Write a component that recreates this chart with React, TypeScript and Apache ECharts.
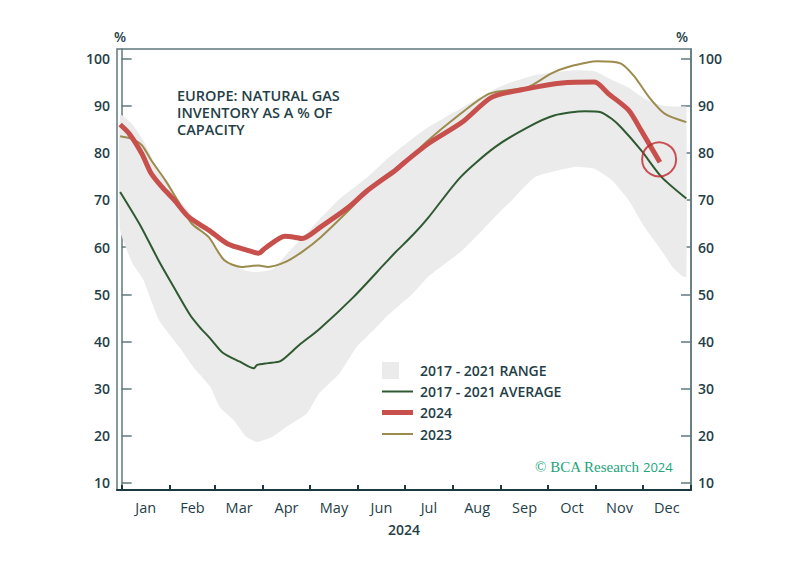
import React, { useEffect, useRef } from 'react';
import * as echarts from 'echarts';

// ---------- DATA ----------
const MONTHS = ['Jan', 'Feb', 'Mar', 'Apr', 'May', 'Jun', 'Jul', 'Aug', 'Sep', 'Oct', 'Nov', 'Dec'];
const MONTH_START_DAYS = [0, 31, 60, 91, 121, 152, 182, 213, 244, 274, 305, 335, 366];
const Y_TICKS = [10, 20, 30, 40, 50, 60, 70, 80, 90, 100];
const TITLE_LINES = ['EUROPE: NATURAL GAS', 'INVENTORY AS A % OF', 'CAPACITY'];

// 2017 - 2021 range (day of year, low, high)
const RANGE_DAYS = [-1, 7, 14, 24, 37, 46, 57, 63, 72, 80, 87, 97, 106, 119, 127, 140, 151, 162, 170, 187, 197, 219, 240, 251, 266, 291, 304, 315, 326, 336, 347, 354, 360, 363];
const RANGE_LOW = [63.6, 56.5, 53.0, 44.5, 38.8, 34.6, 30.4, 26.1, 23.3, 19.8, 18.7, 19.8, 21.9, 24.7, 29.0, 33.2, 38.8, 42.4, 45.2, 50.1, 53.7, 59.3, 66.4, 70.0, 74.9, 77.0, 76.6, 74.2, 69.9, 64.3, 59.3, 55.8, 54.0, 53.7];
const RANGE_HIGH = [88.0, 86.0, 82.5, 76.0, 70.0, 66.5, 61.5, 58.5, 56.0, 55.0, 54.7, 55.3, 58.5, 63.0, 65.8, 70.2, 73.0, 76.0, 78.5, 83.0, 85.4, 89.6, 93.5, 95.0, 96.5, 97.5, 97.3, 95.5, 93.8, 91.5, 90.0, 89.8, 89.8, 89.7];

// 2017 - 2021 average
const AVG_2017_2021: [number, number][] = [
  [-1, 71.7], [12, 64.6], [24, 57.0], [33, 51.8], [44, 45.6], [50, 43.1], [57, 40.6], [65, 37.6],
  [76, 35.7], [85, 34.3], [87, 35.0], [94, 35.4], [102, 35.8], [114, 39.2], [127, 42.6], [149, 49.4],
  [170, 56.8], [176, 58.9], [187, 62.5], [197, 66.2], [218, 74.9], [240, 81.2], [261, 85.4],
  [278, 87.9], [298, 88.8], [308, 88.6], [315, 87.2], [321, 85.4], [334, 80.5], [347, 74.9], [363, 70.3],
];

// 2024
const Y2024: [number, number][] = [
  [-1, 86.0], [5, 84.0], [13, 79.8], [19, 75.6], [26, 72.7], [34, 69.9], [43, 66.4], [56, 63.6],
  [68, 60.7], [81, 59.3], [88, 58.7], [92, 59.7], [105, 62.3], [111, 62.1], [116, 61.8], [128, 64.3],
  [146, 68.5], [158, 72.0], [176, 76.3], [182, 78.0], [197, 81.9], [219, 86.5], [238, 91.8],
  [261, 93.6], [283, 94.8], [304, 95.0], [313, 92.5], [326, 89.0], [334, 84.7], [346, 78.0],
];

// 2023
const Y2023: [number, number][] = [
  [-1, 83.5], [6, 83.0], [13, 81.6], [19, 78.4], [28, 74.2], [36, 69.9], [45, 65.0], [56, 62.1],
  [66, 57.2], [77, 55.8], [88, 56.1], [94, 55.8], [105, 56.8], [116, 59.0], [128, 62.1], [146, 67.8],
  [163, 73.5], [182, 78.0], [197, 82.6], [210, 86.2], [236, 92.5], [261, 93.9], [276, 96.8],
  [287, 98.2], [306, 99.4], [321, 98.9], [330, 96.0], [339, 91.8], [349, 88.3], [363, 86.5],
];

const HIGHLIGHT: [number, number] = [345.5, 78.6];

// ---------- STYLE ----------
const TEXT = '#1f4047';
const AXIS_GREY = '#5f787e';
const C_RANGE = '#ebebeb';
const C_AVG = '#2f5a31';
const C_2024 = '#c8504c';
const C_2023 = '#9b8b4d';
const C_BRAND = '#22a57a';
const FONT = '"Open Sans", "Noto Sans", sans-serif';
const SERIF = '"Liberation Serif", "DejaVu Serif", serif';

export default function App() {
  const ref = useRef<HTMLDivElement>(null);

  useEffect(() => {
    if (!ref.current) return;
    const chart = echarts.init(ref.current, undefined, { renderer: 'svg' });

    const monthMid = MONTHS.map((_, i) => (MONTH_START_DAYS[i] + MONTH_START_DAYS[i + 1]) / 2);
    const rangeData = RANGE_DAYS.map((d, i) => [d, RANGE_LOW[i], RANGE_HIGH[i]]);

    const yAxisCommon = {
      type: 'value' as const,
      min: 8.5,
      max: 102,
      splitLine: { show: false },
      axisLine: { show: true, lineStyle: { color: AXIS_GREY, width: 1.5 } },
      axisTick: { show: true, inside: true, length: 10, customValues: Y_TICKS, lineStyle: { color: AXIS_GREY, width: 1.5 } },
      axisLabel: {
        customValues: Y_TICKS,
        margin: 7,
        color: TEXT,
        fontFamily: FONT,
        fontSize: 14,
        fontWeight: 600,
      },
    };

    const legendX = 382;
    const legendTextX = 420;
    const legendRows = [370.5, 391.5, 412.5, 434];
    const legendLabels = ['2017 - 2021 RANGE', '2017 - 2021 AVERAGE', '2024', '2023'];
    const titleRows = [95, 112.3, 129.6];

    const option: any = {
      animation: false,
      backgroundColor: '#ffffff',
      grid: { left: 117, right: 118, top: 49, bottom: 90, show: true, borderColor: AXIS_GREY, borderWidth: 1.5 },
      xAxis: {
        type: 'value',
        min: -3,
        max: 366,
        name: '2024',
        nameLocation: 'middle',
        nameGap: 32,
        nameTextStyle: { color: TEXT, fontFamily: FONT, fontSize: 14, fontWeight: 600 },
        splitLine: { show: false },
        axisLine: { show: true, lineStyle: { color: '#1b3a3f', width: 2 } },
        axisTick: { show: true, inside: true, length: 5, customValues: MONTH_START_DAYS, lineStyle: { color: '#1b3a3f', width: 2 } },
        axisLabel: {
          customValues: monthMid,
          formatter: (v: number) => {
            const i = monthMid.findIndex((m) => Math.abs(m - v) < 0.01);
            return i >= 0 ? MONTHS[i] : '';
          },
          margin: 10,
          color: TEXT,
          fontFamily: FONT,
          fontSize: 14.5,
          fontWeight: 500,
        },
      },
      yAxis: [
        { ...yAxisCommon, position: 'left' },
        { ...yAxisCommon, position: 'right' },
      ],
      series: [
        {
          type: 'custom',
          name: '2017 - 2021 RANGE',
          data: rangeData,
          encode: { x: 0, y: [1, 2] },
          silent: true,
          z: 1,
          renderItem: (params: any, api: any) => {
            if (params.dataIndex !== 0) return null;
            const upper = rangeData.map((r) => api.coord([r[0], r[2]]));
            const lower = rangeData.map((r) => api.coord([r[0], r[1]])).reverse();
            return {
              type: 'polygon',
              shape: { points: upper.concat(lower), smooth: 0.15 },
              style: { fill: C_RANGE, stroke: 'none' },
            };
          },
        },
        {
          type: 'line',
          name: '2017 - 2021 AVERAGE',
          data: AVG_2017_2021,
          symbol: 'none',
          smooth: 0.25,
          lineStyle: { color: C_AVG, width: 2 },
          z: 3,
        },
        {
          type: 'line',
          name: '2023',
          data: Y2023,
          symbol: 'none',
          smooth: 0.25,
          lineStyle: { color: C_2023, width: 2 },
          z: 4,
        },
        {
          type: 'line',
          name: '2024',
          data: Y2024,
          symbol: 'none',
          smooth: 0.25,
          lineStyle: { color: C_2024, width: 5 },
          z: 5,
        },
        {
          type: 'scatter',
          name: 'highlight',
          data: [HIGHLIGHT],
          symbol: 'circle',
          symbolSize: 34,
          itemStyle: { color: 'rgba(0,0,0,0)', borderColor: '#c0272d', borderWidth: 2 },
          silent: true,
          z: 6,
        },
      ],
      graphic: [
        ...TITLE_LINES.map((t, i) => ({
          type: 'text',
          x: 177,
          y: titleRows[i],
          z: 100,
          style: { text: t, fill: TEXT, font: `600 14.5px ${FONT}`, verticalAlign: 'middle' },
        })),
        { type: 'text', x: 120, y: 36, z: 100, style: { text: '%', fill: TEXT, font: `600 14px ${FONT}`, align: 'center', verticalAlign: 'middle' } },
        { type: 'text', x: 682, y: 36, z: 100, style: { text: '%', fill: TEXT, font: `600 14px ${FONT}`, align: 'center', verticalAlign: 'middle' } },
        { type: 'rect', z: 100, shape: { x: legendX, y: 362, width: 17, height: 17 }, style: { fill: C_RANGE } },
        { type: 'line', z: 100, shape: { x1: legendX, y1: legendRows[1], x2: 413, y2: legendRows[1] }, style: { stroke: C_AVG, lineWidth: 2 } },
        { type: 'line', z: 100, shape: { x1: legendX, y1: legendRows[2], x2: 413, y2: legendRows[2] }, style: { stroke: C_2024, lineWidth: 5 } },
        { type: 'line', z: 100, shape: { x1: legendX, y1: legendRows[3], x2: 413, y2: legendRows[3] }, style: { stroke: C_2023, lineWidth: 2 } },
        ...legendLabels.map((t, i) => ({
          type: 'text',
          x: legendTextX,
          y: legendRows[i],
          z: 100,
          style: { text: t, fill: TEXT, font: `600 14px ${FONT}`, verticalAlign: 'middle' },
        })),
        {
          type: 'text',
          x: 639,
          y: 467,
          z: 100,
          style: { text: '© BCA Research', fill: C_BRAND, font: `15px ${SERIF}`, align: 'right', verticalAlign: 'middle' },
        },
        {
          type: 'text',
          x: 643,
          y: 467,
          z: 100,
          style: { text: '2024', fill: C_BRAND, font: `13px ${FONT}`, align: 'left', verticalAlign: 'middle' },
        },
      ],
    };

    chart.setOption(option);
    return () => chart.dispose();
  }, []);

  return <div ref={ref} style={{ position: 'fixed', left: 0, top: 0, width: 809, height: 580 }} />;
}
